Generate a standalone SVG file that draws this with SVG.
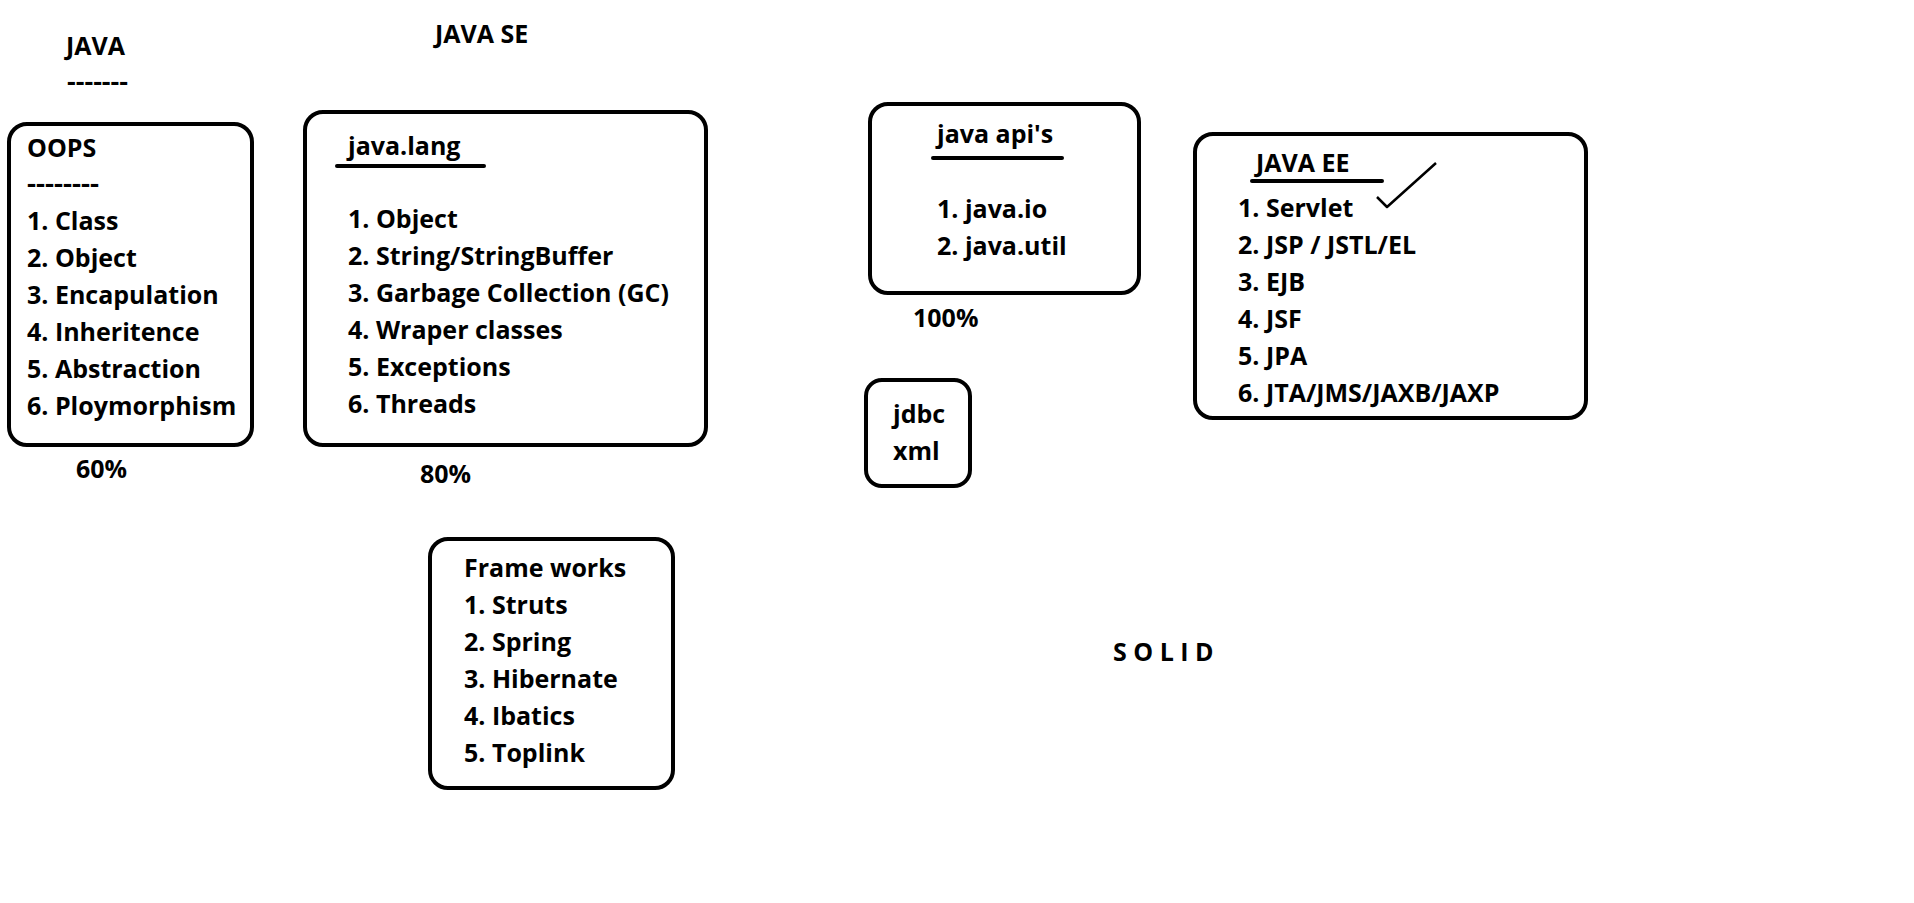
<svg xmlns="http://www.w3.org/2000/svg" width="1914" height="903" viewBox="0 0 1914 903">
<style>
text{font-family:"Open Sans","Noto Sans","Liberation Sans",sans-serif;font-weight:700;font-size:25px;fill:#000}
.box{fill:none;stroke:#000;stroke-width:4}
.ul{stroke:#000;stroke-width:4;stroke-linecap:round}
</style>
<rect width="1914" height="903" fill="#fff"/>
<g id="title-java"><text x="66" y="55">JAVA</text><text x="67" y="90" textLength="61" lengthAdjust="spacingAndGlyphs">-------</text></g>
<g id="title-javase"><text x="435" y="43">JAVA SE</text></g>
<g id="oops">
<rect class="box" x="9" y="124" width="243" height="321" rx="18"/>
<text x="27" y="157">OOPS</text>
<text x="27" y="192" textLength="72" lengthAdjust="spacingAndGlyphs">--------</text>
<text x="27" y="230">1. Class</text>
<text x="27" y="267">2. Object</text>
<text x="27" y="304">3. Encapulation</text>
<text x="27" y="341">4. Inheritence</text>
<text x="27" y="378">5. Abstraction</text>
<text x="27" y="415">6. Ploymorphism</text>
</g>
<g id="pct60"><text x="76" y="478">60%</text></g>
<g id="javalang">
<rect class="box" x="305" y="112" width="401" height="333" rx="18"/>
<text x="348" y="155">java.lang</text>
<line class="ul" x1="337" y1="166" x2="484" y2="166"/>
<text x="348" y="228">1. Object</text>
<text x="348" y="265">2. String/StringBuffer</text>
<text x="348" y="302">3. Garbage Collection (GC)</text>
<text x="348" y="339">4. Wraper classes</text>
<text x="348" y="376">5. Exceptions</text>
<text x="348" y="413">6. Threads</text>
</g>
<g id="pct80"><text x="420" y="483">80%</text></g>
<g id="javaapis">
<rect class="box" x="870" y="104" width="269" height="189" rx="18"/>
<text x="937" y="143">java api's</text>
<line class="ul" x1="933" y1="158" x2="1062" y2="158"/>
<text x="937" y="218">1. java.io</text>
<text x="937" y="255">2. java.util</text>
</g>
<g id="pct100"><text x="913" y="327">100%</text></g>
<g id="jdbc">
<rect class="box" x="866" y="380" width="104" height="106" rx="16"/>
<text x="893" y="423">jdbc</text>
<text x="893" y="460">xml</text>
</g>
<g id="javaee">
<rect class="box" x="1195" y="134" width="391" height="284" rx="18"/>
<text x="1256" y="172">JAVA EE</text>
<line class="ul" x1="1252" y1="181" x2="1382" y2="181"/>
<polyline points="1377,197 1387,207 1436,163" fill="none" stroke="#000" stroke-width="2.5" stroke-linejoin="round"/>
<text x="1238" y="217">1. Servlet</text>
<text x="1238" y="254">2. JSP / JSTL/EL</text>
<text x="1238" y="291">3. EJB</text>
<text x="1238" y="328">4. JSF</text>
<text x="1238" y="365">5. JPA</text>
<text x="1238" y="402">6. JTA/JMS/JAXB/JAXP</text>
</g>
<g id="frameworks">
<rect class="box" x="430" y="539" width="243" height="249" rx="18"/>
<text x="464" y="577">Frame works</text>
<text x="464" y="614">1. Struts</text>
<text x="464" y="651">2. Spring</text>
<text x="464" y="688">3. Hibernate</text>
<text x="464" y="725">4. Ibatics</text>
<text x="464" y="762">5. Toplink</text>
</g>
<g id="solid"><text x="1113" y="661" font-size="24">S O L I D</text></g>
<g id="connectors"/>
</svg>
